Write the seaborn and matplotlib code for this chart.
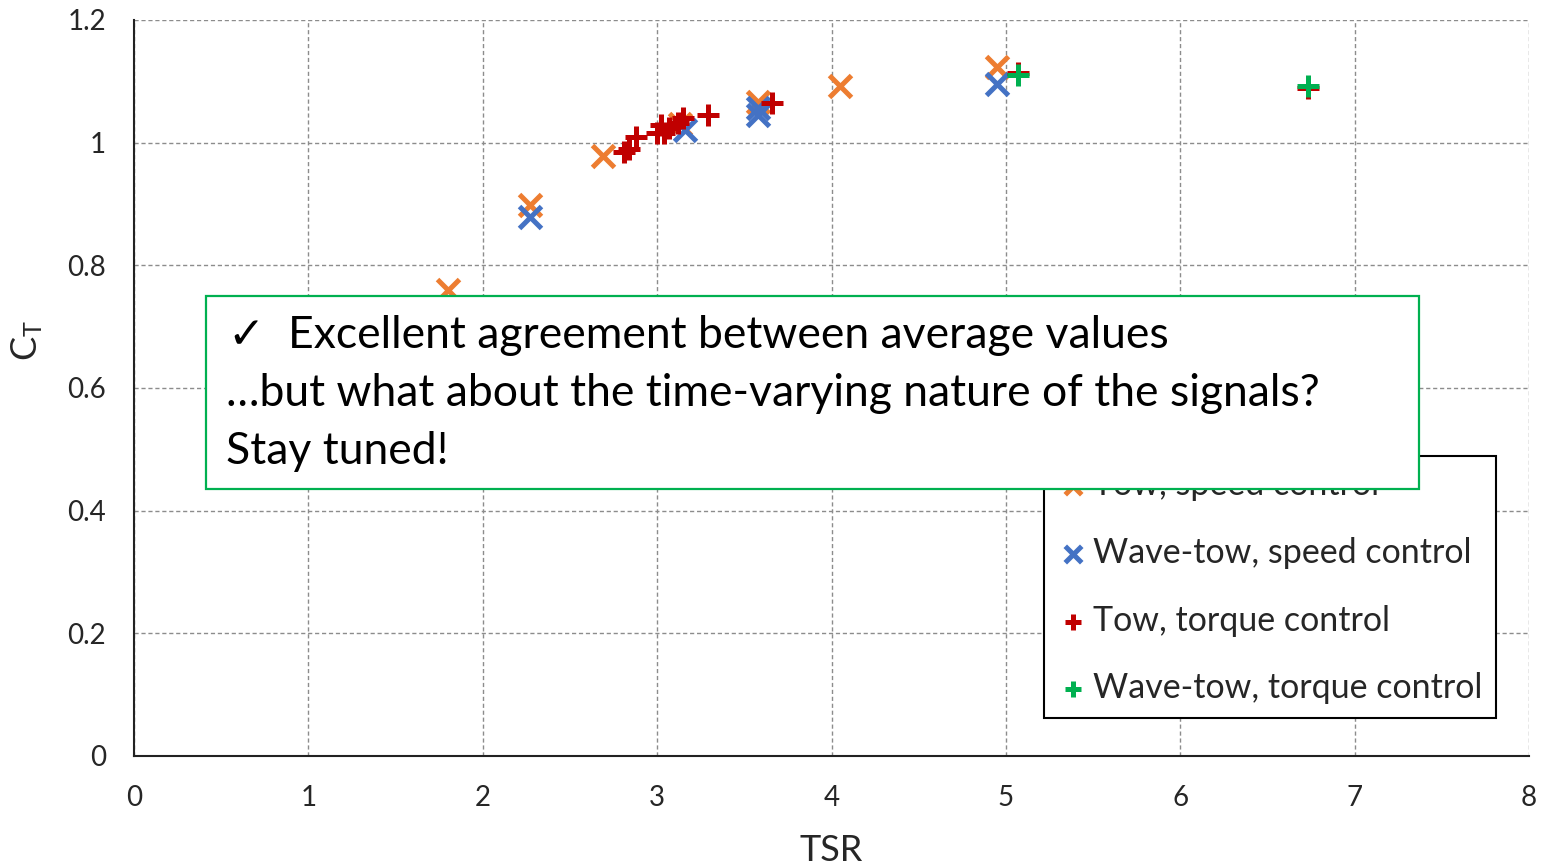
import matplotlib
matplotlib.use("Agg")
import matplotlib.pyplot as plt
import seaborn as sns
import pandas as pd
from matplotlib.patches import Rectangle

# ---- data ----
tow_speed_x = [1.80, 2.27, 2.69, 3.13, 3.58, 4.05, 4.95]
tow_speed_y = [0.760, 0.898, 0.978, 1.030, 1.066, 1.092, 1.123]

wave_speed_x = [2.27, 3.16, 3.58, 3.58, 4.95]
wave_speed_y = [0.879, 1.021, 1.057, 1.045, 1.096]

tow_torque_x = [2.81, 2.84, 2.88, 3.00, 3.02, 3.04, 3.07, 3.12, 3.15, 3.29, 3.66, 5.07, 6.73]
tow_torque_y = [0.985, 0.990, 1.009, 1.016, 1.029, 1.016, 1.024, 1.032, 1.040, 1.045, 1.065, 1.114, 1.089]

wave_torque_x = [5.07, 6.73]
wave_torque_y = [1.110, 1.093]

labels = ["Tow, speed control", "Wave-tow, speed control",
          "Tow, torque control", "Wave-tow, torque control"]
colors = ["#ED7D31", "#4472C4", "#C00000", "#00B050"]
markers = ["x", "x", "+", "+"]

x_ticks = [0, 1, 2, 3, 4, 5, 6, 7, 8]
y_ticks = [0, 0.2, 0.4, 0.6, 0.8, 1.0, 1.2]
y_tick_labels = ["0", "0.2", "0.4", "0.6", "0.8", "1", "1.2"]

note_lines = ["\u2713  Excellent agreement between average values",
              "\u2026but what about the time-varying nature of the signals?",
              "Stay tuned!"]

# ---- style ----
sns.set_theme(style="white")
plt.rcParams["font.family"] = ["Lato", "DejaVu Sans"]
plt.rcParams["mathtext.default"] = "regular"

fig = plt.figure(figsize=(15.41, 8.68), dpi=100)
ax = fig.add_axes([134/1541, 1-756/868, (1529-134)/1541, (756-20)/868])

series = [(tow_speed_x, tow_speed_y), (wave_speed_x, wave_speed_y),
          (tow_torque_x, tow_torque_y), (wave_torque_x, wave_torque_y)]
for (xs, ys), lab, col, mk in zip(series, labels, colors, markers):
    df = pd.DataFrame({"x": xs, "y": ys})
    sns.scatterplot(data=df, x="x", y="y", marker=mk, color=col, s=250,
                    linewidth=3.6, ax=ax, label=lab, zorder=3)

ax.set_xlim(0, 8)
ax.set_ylim(0, 1.2)
ax.set_xticks(x_ticks)
ax.set_yticks(y_ticks)
ax.set_yticklabels(y_tick_labels)
ax.tick_params(labelsize=20, length=0)
ax.tick_params(axis="x", pad=21)
ax.tick_params(axis="y", pad=20)
ax.grid(True, color="#8c8c8c", linestyle=(0, (3, 2)), linewidth=1.0)
for s in ["top", "right"]:
    ax.spines[s].set_visible(False)
for s in ["left", "bottom"]:
    ax.spines[s].set_color("#222222")
    ax.spines[s].set_linewidth(1.5)

ax.set_xlabel("TSR", fontsize=26)
ax.set_ylabel("C$_T$", fontsize=26)
ax.xaxis.set_label_coords(0.5, -0.106)
ax.yaxis.set_label_coords(-0.064, 0.565)

leg = ax.legend(loc="lower right", bbox_to_anchor=(1496/1541, 1-718/868),
                bbox_transform=fig.transFigure, fontsize=24.5, frameon=True,
                fancybox=False, edgecolor="black", framealpha=1,
                handletextpad=0.15, handlelength=0.9, labelspacing=1.05,
                borderpad=0.4, borderaxespad=0, markerscale=0.75)
leg.get_frame().set_linewidth(1.5)

# annotation box
x0, y0, x1, y1 = 206, 296, 1419, 489
fig.add_artist(Rectangle((x0/1541, 1-y1/868), (x1-x0)/1541, (y1-y0)/868,
                         transform=fig.transFigure, facecolor="white",
                         edgecolor="#00B050", linewidth=1.6, zorder=5))
line_y = [335, 393, 451]
line_x = [228, 226, 226]
for t, xx, yy in zip(note_lines, line_x, line_y):
    fig.text(xx/1541, 1-yy/868, t, fontsize=32, va="center", ha="left",
             color="black", zorder=6)

fig.savefig("out.png", dpi=100)
